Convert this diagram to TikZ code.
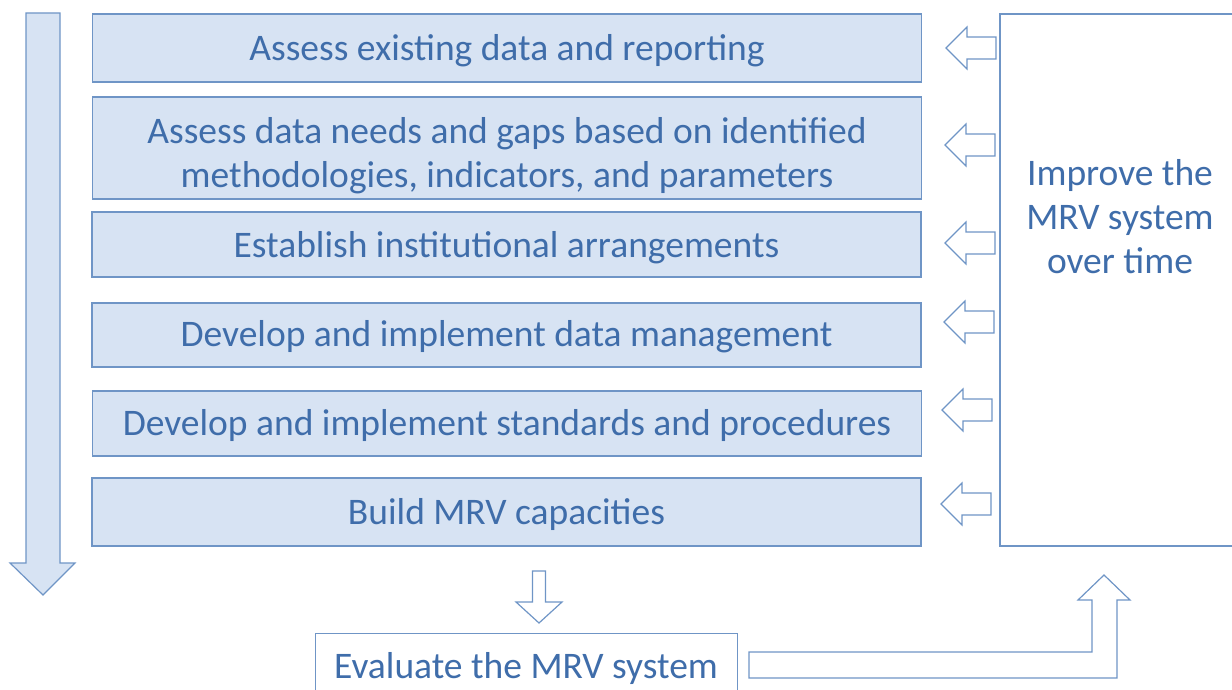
\documentclass[tikz,border=0pt]{standalone}
\usepackage{fontspec}
\setmainfont{Carlito}
\definecolor{txt}{HTML}{3F6DAA}
\definecolor{fillb}{HTML}{D7E3F3}
\definecolor{edge}{HTML}{6F95C6}
\begin{document}
\begin{tikzpicture}[x=1pt,y=-1pt,
  stepbox/.style={draw=edge, line width=1.3pt, fill=fillb, text=txt,
    font=\fontsize{37.5}{44}\selectfont, align=center, inner sep=0pt,
    minimum width=829pt},
  plainbox/.style={draw=edge, line width=1.3pt, fill=white, inner sep=0pt},
  lbl/.style={text=txt, font=\fontsize{37.5}{44}\selectfont, align=center, inner sep=0pt},
  blockarrow/.style={draw=edge, line width=1.2pt, fill=white, line join=miter},
  bigarrow/.style={draw=edge, line width=1.2pt, fill=fillb, line join=miter},
  leftarrow/.pic={\path[blockarrow] (0,0) -- (21,-21) -- (21,-11) -- (50,-11)
     -- (50,11) -- (21,11) -- (21,21) -- cycle;}
]
\useasboundingbox (0,0) rectangle (1232,690);
\clip (0,0) rectangle (1232,690);

% big down arrow on the left
\path[bigarrow] (26,13) -- (60,13) -- (60,563) -- (75,563) -- (43,595)
  -- (10,563) -- (26,563) -- cycle;

% steps
\node[stepbox, minimum height=68pt] (s1) at (507,48) {};
\node[lbl] (s1t) at (507,51) {Assess existing data and reporting};
\node[stepbox, minimum height=102pt] (s2) at (507,148) {};
\node[lbl] (s2t) at (507,156) {Assess data needs and gaps based on identified\\methodologies, indicators, and parameters};
\node[stepbox, minimum height=65pt] (s3) at (506.5,244.5) {};
\node[lbl] (s3t) at (506.5,248) {Establish institutional arrangements};
\node[stepbox, minimum height=64pt] (s4) at (506.5,335) {};
\node[lbl] (s4t) at (506.5,337) {Develop and implement data management};
\node[stepbox, minimum height=65pt] (s5) at (507,423.5) {};
\node[lbl] (s5t) at (507,426) {Develop and implement standards and procedures};
\node[stepbox, minimum height=68pt] (s6) at (506.5,512) {};
\node[lbl] (s6t) at (506.5,514) {Build MRV capacities};

% improve box
\node[plainbox, minimum width=250pt, minimum height=532pt] (imp) at (1125,280) {};
\node[lbl] (impt) at (1120,217) {Improve the\\MRV system\\over time};

% small arrows from improve box to steps
\pic at (946,48) {leftarrow};
\pic at (945,145) {leftarrow};
\pic at (945,243) {leftarrow};
\pic at (944,322) {leftarrow};
\pic at (942,410) {leftarrow};
\pic at (941,504) {leftarrow};

% evaluate box
\node[plainbox, line width=1pt, minimum width=422pt, minimum height=72pt] (ev) at (526,669) {};
\node[lbl] (evt) at (526,668) {Evaluate the MRV system};

% arrow from steps to evaluate
\path[blockarrow] (532.5,571) -- (545.5,571) -- (545.5,602) -- (562,602) -- (539,623)
  -- (516,602) -- (532.5,602) -- cycle;

% bent arrow from evaluate to improve
\path[blockarrow] (749,652) -- (1092,652) -- (1092,600) -- (1078,600) -- (1104,575)
  -- (1130,600) -- (1117,600) -- (1117,678) -- (749,678) -- cycle;
\end{tikzpicture}
\end{document}
